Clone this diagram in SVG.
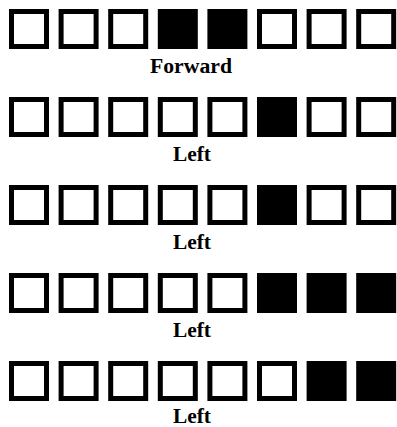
<svg xmlns="http://www.w3.org/2000/svg" width="397" height="427" viewBox="0 0 397 427">
<style>
.e{fill:#fff;stroke:#000;stroke-width:5}
.f{fill:#000}
.t{font-family:"Liberation Serif",serif;font-size:20px;font-weight:bold;fill:#000;text-anchor:middle}
</style>
<defs>
<rect id="E" class="e" x="2.5" y="2.5" width="35" height="35"/>
<rect id="F" class="f" x="0" y="0" width="40" height="40"/>
</defs>
<rect width="397" height="427" fill="#fff"/>
<g id="row1" transform="translate(0,9)">
<use href="#E" x="9"/><use href="#E" x="58.6"/><use href="#E" x="108.2"/><use href="#F" x="157.8"/><use href="#F" x="207.4"/><use href="#E" x="257"/><use href="#E" x="306.6"/><use href="#E" x="356.2"/>
<text class="t" x="191" y="64" textLength="82" lengthAdjust="spacingAndGlyphs">Forward</text>
</g>
<g id="row2" transform="translate(0,97)">
<use href="#E" x="9"/><use href="#E" x="58.6"/><use href="#E" x="108.2"/><use href="#E" x="157.8"/><use href="#E" x="207.4"/><use href="#F" x="257"/><use href="#E" x="306.6"/><use href="#E" x="356.2"/>
<text class="t" x="192" y="64" textLength="38" lengthAdjust="spacingAndGlyphs">Left</text>
</g>
<g id="row3" transform="translate(0,185)">
<use href="#E" x="9"/><use href="#E" x="58.6"/><use href="#E" x="108.2"/><use href="#E" x="157.8"/><use href="#E" x="207.4"/><use href="#F" x="257"/><use href="#E" x="306.6"/><use href="#E" x="356.2"/>
<text class="t" x="192" y="64" textLength="38" lengthAdjust="spacingAndGlyphs">Left</text>
</g>
<g id="row4" transform="translate(0,273)">
<use href="#E" x="9"/><use href="#E" x="58.6"/><use href="#E" x="108.2"/><use href="#E" x="157.8"/><use href="#E" x="207.4"/><use href="#F" x="257"/><use href="#F" x="306.6"/><use href="#F" x="356.2"/>
<text class="t" x="192" y="64" textLength="38" lengthAdjust="spacingAndGlyphs">Left</text>
</g>
<g id="row5" transform="translate(0,361)">
<use href="#E" x="9"/><use href="#E" x="58.6"/><use href="#E" x="108.2"/><use href="#E" x="157.8"/><use href="#E" x="207.4"/><use href="#E" x="257"/><use href="#F" x="306.6"/><use href="#F" x="356.2"/>
<text class="t" x="192" y="62" textLength="38" lengthAdjust="spacingAndGlyphs">Left</text>
</g>
</svg>
